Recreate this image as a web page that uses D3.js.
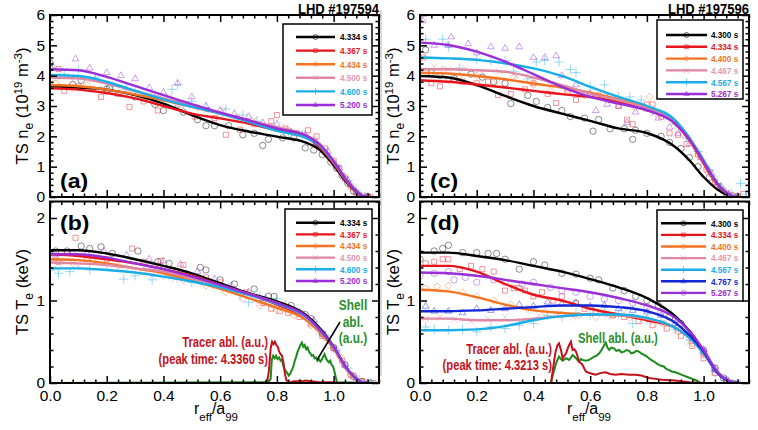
<!DOCTYPE html>
<html>
<head>
<meta charset="utf-8">
<script src="https://cdn.jsdelivr.net/npm/d3@7"></script>
<style>
  body { margin: 0; background: #fff; }
  svg { display: block; }
</style>
</head>
<body>
<div id="chart"></div>
<script>
// radial knots of the fitted profiles (r_eff/a_99)
var knots = [0, 0.1, 0.2, 0.3, 0.4, 0.5, 0.6, 0.7, 0.8, 0.9, 0.95, 1.0, 1.05, 1.1, 1.12]

var timesA = ["4.334 s", "4.367 s", "4.434 s", "4.500 s", "4.600 s", "5.200 s"]
var timesC = ["4.300 s", "4.334 s", "4.400 s", "4.467 s", "4.567 s", "5.267 s"]
var timesD = ["4.300 s", "4.334 s", "4.400 s", "4.467 s", "4.567 s", "4.767 s", "5.267 s"]

var xTicks = [0, 0.2, 0.4, 0.6, 0.8, 1.0]
var neTicks = [0, 1, 2, 3, 4, 5, 6]
var teTicks = [0, 1, 2]

// fitted n_e, shot 197594 (panel a)
var fitA = [
  [3.65, 3.61, 3.54, 3.36, 3.08, 2.70, 2.37, 2.16, 1.99, 1.80, 1.56, 1.05, 0.44, 0.04, 0],
  [3.58, 3.54, 3.43, 3.25, 3.00, 2.75, 2.59, 2.42, 2.20, 1.98, 1.65, 1.10, 0.46, 0.04, 0],
  [3.69, 3.65, 3.54, 3.38, 3.19, 2.97, 2.75, 2.51, 2.28, 2.04, 1.73, 1.16, 0.50, 0.05, 0],
  [3.94, 3.91, 3.74, 3.50, 3.25, 3.00, 2.78, 2.53, 2.29, 2.04, 1.72, 1.16, 0.50, 0.05, 0],
  [4.02, 3.99, 3.80, 3.50, 3.22, 2.97, 2.75, 2.48, 2.18, 1.96, 1.70, 1.16, 0.50, 0.05, 0],
  [4.21, 4.18, 3.96, 3.66, 3.36, 3.06, 2.78, 2.53, 2.26, 2.04, 1.74, 1.19, 0.50, 0.05, 0]
]
// fitted T_e, shot 197594 (panel b)
var fitB = [
  [1.61, 1.61, 1.57, 1.50, 1.42, 1.33, 1.21, 1.09, 0.99, 0.83, 0.67, 0.44, 0.16, 0.01, 0],
  [1.56, 1.54, 1.50, 1.45, 1.38, 1.30, 1.19, 1.08, 0.95, 0.79, 0.63, 0.42, 0.15, 0.01, 0],
  [1.50, 1.49, 1.45, 1.39, 1.33, 1.24, 1.14, 1.03, 0.91, 0.77, 0.62, 0.42, 0.15, 0.01, 0],
  [1.46, 1.45, 1.43, 1.39, 1.35, 1.27, 1.18, 1.08, 0.97, 0.80, 0.64, 0.43, 0.15, 0.01, 0],
  [1.39, 1.39, 1.37, 1.34, 1.29, 1.23, 1.16, 1.07, 0.96, 0.81, 0.65, 0.44, 0.16, 0.01, 0],
  [1.56, 1.56, 1.52, 1.45, 1.38, 1.29, 1.19, 1.08, 0.97, 0.82, 0.65, 0.44, 0.16, 0.01, 0]
]
// fitted n_e, shot 197596 (panel c)
var fitC = [
  [3.99, 3.94, 3.69, 3.33, 3.00, 2.75, 2.51, 2.26, 2.11, 1.65, 1.21, 0.66, 0.24, 0.02, 0],
  [3.85, 3.80, 3.71, 3.61, 3.50, 3.39, 3.30, 3.14, 2.86, 2.42, 1.87, 1.10, 0.39, 0.04, 0],
  [4.10, 4.07, 3.99, 3.88, 3.74, 3.61, 3.44, 3.22, 2.95, 2.48, 1.90, 1.16, 0.42, 0.04, 0],
  [4.21, 4.21, 4.18, 4.13, 3.94, 3.69, 3.41, 3.19, 2.92, 2.48, 1.90, 1.16, 0.42, 0.04, 0],
  [4.60, 4.57, 4.52, 4.41, 4.24, 3.99, 3.63, 3.30, 3.00, 2.53, 1.95, 1.21, 0.44, 0.04, 0],
  [5.09, 5.01, 4.79, 4.46, 4.05, 3.63, 3.30, 3.08, 2.86, 2.42, 1.90, 1.16, 0.42, 0.04, 0]
]
// fitted T_e, shot 197596 (panel d)
var fitD = [
  [1.58, 1.58, 1.54, 1.49, 1.42, 1.35, 1.26, 1.16, 1.03, 0.81, 0.63, 0.38, 0.12, 0.01, 0],
  [1.42, 1.42, 1.35, 1.20, 1.07, 1.00, 0.90, 0.83, 0.76, 0.67, 0.55, 0.36, 0.12, 0.01, 0],
  [1.13, 1.11, 1.04, 0.95, 0.88, 0.85, 0.83, 0.82, 0.78, 0.67, 0.55, 0.36, 0.12, 0.01, 0],
  [0.78, 0.78, 0.76, 0.76, 0.78, 0.81, 0.83, 0.82, 0.78, 0.67, 0.55, 0.36, 0.12, 0.01, 0],
  [0.64, 0.64, 0.65, 0.69, 0.76, 0.81, 0.83, 0.83, 0.79, 0.67, 0.55, 0.36, 0.12, 0.01, 0],
  [0.87, 0.87, 0.88, 0.90, 0.92, 0.94, 0.94, 0.92, 0.87, 0.73, 0.58, 0.38, 0.12, 0.01, 0],
  [1.34, 1.33, 1.30, 1.25, 1.20, 1.15, 1.10, 1.03, 0.94, 0.79, 0.63, 0.40, 0.13, 0.01, 0]
]

// Thomson scattering points [r_eff/a_99, value]
var ptsA = [
  [[0.0,4.42],[0.0,4.25],[0.08,3.7],[0.11,3.85],[0.2,3.55],[0.21,3.6],[0.3,3.3],[0.37,3.05],[0.4,2.85],[0.47,2.8],[0.52,2.55],[0.55,2.35],[0.58,2.35],[0.63,2.35],[0.68,2.05],[0.72,2.1],[0.75,1.7],[0.77,1.9],[0.82,1.95],[0.86,1.95],[0.9,1.62],[0.93,1.55],[0.96,1.4],[0.99,1.15],[1.01,0.95],[1.03,0.7],[1.05,0.45],[1.07,0.2],[1.09,0.05],[1.12,0.0]],
  [[0.03,4.22],[0.05,3.5],[0.1,3.65],[0.15,3.55],[0.18,3.3],[0.24,3.4],[0.28,2.97],[0.33,3.15],[0.38,2.85],[0.45,3.05],[0.51,2.65],[0.58,2.6],[0.62,2.05],[0.67,2.22],[0.72,2.4],[0.78,2.5],[0.8,2.7],[0.83,2.25],[0.87,2.1],[0.91,2.2],[0.94,2.0],[0.97,1.6],[1.0,1.2],[1.02,0.95],[1.04,0.6],[1.06,0.35],[1.08,0.15],[1.12,0.03],[1.13,0.0]],
  [[0.02,3.75],[0.08,3.6],[0.13,3.7],[0.2,3.5],[0.27,3.45],[0.33,3.3],[0.4,3.25],[0.46,3.0],[0.52,2.95],[0.6,2.7],[0.66,2.6],[0.72,2.45],[0.78,2.3],[0.84,2.2],[0.9,2.05],[0.95,1.7],[1.0,1.15],[1.04,0.65],[1.07,0.25],[1.1,0.05]],
  [[0.02,3.95],[0.08,3.85],[0.15,3.9],[0.22,3.6],[0.28,3.55],[0.35,3.35],[0.42,3.3],[0.48,3.05],[0.55,2.85],[0.61,2.85],[0.66,2.65],[0.72,2.55],[0.77,2.35],[0.83,2.3],[0.88,2.1],[0.93,1.9],[0.97,1.5],[1.01,1.0],[1.04,0.65],[1.07,0.3],[1.1,0.05]],
  [[0.0,4.0],[0.05,4.05],[0.1,4.2],[0.16,3.95],[0.22,3.65],[0.27,3.55],[0.3,3.5],[0.37,3.35],[0.43,3.55],[0.45,3.7],[0.5,3.15],[0.55,2.95],[0.62,2.9],[0.68,2.7],[0.73,2.5],[0.79,2.3],[0.84,2.1],[0.89,2.05],[0.93,1.85],[0.97,1.45],[1.01,1.0],[1.05,0.55],[1.08,0.2],[1.11,0.02]],
  [[0.01,4.3],[0.09,4.55],[0.14,4.25],[0.2,4.1],[0.25,4.0],[0.3,3.9],[0.35,3.6],[0.4,3.45],[0.45,3.75],[0.5,3.3],[0.55,3.0],[0.6,2.85],[0.65,2.75],[0.7,2.65],[0.75,2.45],[0.8,2.4],[0.85,2.15],[0.9,2.05],[0.94,1.8],[0.98,1.5],[1.02,0.95],[1.05,0.55],[1.08,0.15],[1.12,0.02]]
]
var ptsB = [
  [[0.02,1.6],[0.06,1.6],[0.11,1.66],[0.14,1.63],[0.18,1.65],[0.22,1.57],[0.31,1.6],[0.38,1.47],[0.42,1.45],[0.53,1.4],[0.55,1.37],[0.6,1.25],[0.65,1.2],[0.72,1.14],[0.77,1.05],[0.79,1.05],[0.85,0.94],[0.9,0.83],[0.92,0.78],[0.96,0.6],[1.0,0.43],[1.04,0.22],[1.07,0.08],[1.1,0.02],[1.13,0.0]],
  [[0.03,1.47],[0.06,1.58],[0.09,1.76],[0.13,1.5],[0.2,1.5],[0.29,1.63],[0.33,1.47],[0.39,1.48],[0.45,1.35],[0.47,1.43],[0.55,1.28],[0.6,1.22],[0.65,1.12],[0.69,1.1],[0.75,0.97],[0.78,0.9],[0.81,0.87],[0.84,0.85],[0.88,0.8],[0.92,0.72],[0.96,0.57],[1.0,0.42],[1.03,0.27],[1.06,0.1],[1.1,0.02],[1.14,0.0]],
  [[0.02,1.5],[0.08,1.45],[0.15,1.48],[0.24,1.42],[0.33,1.36],[0.4,1.3],[0.47,1.25],[0.55,1.18],[0.62,1.1],[0.68,1.02],[0.74,0.94],[0.8,0.88],[0.86,0.82],[0.92,0.7],[0.97,0.55],[1.02,0.33],[1.06,0.1],[1.1,0.01]],
  [[0.03,1.45],[0.1,1.42],[0.2,1.4],[0.28,1.4],[0.36,1.3],[0.44,1.26],[0.52,1.22],[0.58,1.17],[0.65,1.1],[0.72,1.0],[0.79,0.95],[0.85,0.9],[0.9,0.8],[0.95,0.62],[0.99,0.45],[1.03,0.28],[1.07,0.08],[1.11,0.01]],
  [[0.0,1.36],[0.03,1.33],[0.07,1.35],[0.14,1.37],[0.26,1.26],[0.3,1.3],[0.36,1.25],[0.42,1.3],[0.5,1.22],[0.58,1.2],[0.63,1.16],[0.67,1.07],[0.7,0.98],[0.74,1.05],[0.8,1.02],[0.83,0.95],[0.88,0.85],[0.93,0.74],[0.97,0.58],[1.01,0.4],[1.05,0.18],[1.09,0.04],[1.13,0.0]],
  [[0.02,1.55],[0.08,1.58],[0.13,1.57],[0.19,1.6],[0.27,1.55],[0.35,1.5],[0.4,1.48],[0.46,1.44],[0.52,1.35],[0.58,1.26],[0.64,1.18],[0.7,1.1],[0.76,1.02],[0.82,0.93],[0.88,0.85],[0.93,0.76],[0.97,0.58],[1.01,0.4],[1.04,0.22],[1.08,0.05],[1.12,0.0]]
]
var ptsC = [
  [[0.02,4.85],[0.04,4.1],[0.07,4.0],[0.12,3.9],[0.18,4.05],[0.22,3.95],[0.26,3.8],[0.3,3.75],[0.32,3.08],[0.38,3.35],[0.41,3.15],[0.45,2.95],[0.5,2.85],[0.53,2.65],[0.58,2.6],[0.61,2.17],[0.63,2.55],[0.67,2.25],[0.72,2.25],[0.75,1.9],[0.76,2.2],[0.8,2.1],[0.85,2.0],[0.88,1.8],[0.92,1.6],[0.95,1.3],[0.98,1.0],[1.02,0.65],[1.05,0.35],[1.08,0.1],[1.12,0.02]],
  [[0.01,4.6],[0.04,3.75],[0.07,3.65],[0.1,3.85],[0.15,3.8],[0.2,3.75],[0.24,3.8],[0.275,3.36],[0.32,3.4],[0.37,3.55],[0.4,3.75],[0.45,3.4],[0.48,3.1],[0.52,3.45],[0.55,3.2],[0.6,3.35],[0.63,3.35],[0.67,3.3],[0.7,3.0],[0.73,2.55],[0.75,2.4],[0.8,3.05],[0.82,3.05],[0.85,2.65],[0.88,2.1],[0.91,2.05],[0.94,1.75],[0.98,1.4],[1.01,0.9],[1.04,0.5],[1.07,0.2],[1.1,0.05],[1.14,0.1]],
  [[0.02,4.15],[0.08,4.2],[0.14,4.0],[0.2,4.0],[0.27,3.85],[0.33,3.95],[0.4,3.7],[0.46,3.5],[0.52,3.55],[0.58,3.35],[0.65,3.3],[0.7,3.15],[0.76,2.95],[0.81,3.3],[0.85,2.75],[0.9,2.45],[0.94,2.0],[0.98,1.4],[1.02,0.85],[1.06,0.35],[1.1,0.05]],
  [[0.01,4.6],[0.05,4.3],[0.1,4.2],[0.16,4.25],[0.22,4.1],[0.28,4.15],[0.34,4.0],[0.4,3.85],[0.46,3.7],[0.52,3.55],[0.58,3.4],[0.64,3.3],[0.7,3.15],[0.76,3.0],[0.82,2.75],[0.87,2.6],[0.92,2.2],[0.96,1.75],[1.0,1.15],[1.04,0.6],[1.08,0.15],[1.12,0.03]],
  [[0.02,5.2],[0.08,5.2],[0.1,4.95],[0.14,4.25],[0.2,4.55],[0.25,4.5],[0.3,4.5],[0.33,4.15],[0.38,3.9],[0.41,4.45],[0.44,4.5],[0.49,4.45],[0.53,4.2],[0.55,4.1],[0.6,3.65],[0.65,3.7],[0.7,3.3],[0.74,3.3],[0.78,3.2],[0.82,2.85],[0.86,2.7],[0.9,2.4],[0.94,1.95],[0.98,1.5],[1.02,0.9],[1.06,0.3],[1.1,0.1],[1.13,0.45],[1.15,0.1]],
  [[0.01,5.81],[0.05,5.0],[0.1,5.0],[0.11,5.28],[0.17,5.05],[0.2,4.75],[0.25,4.95],[0.3,4.9],[0.35,4.95],[0.4,4.6],[0.44,4.6],[0.48,4.65],[0.5,4.0],[0.55,3.7],[0.6,3.4],[0.62,2.85],[0.66,3.05],[0.7,3.0],[0.73,2.45],[0.76,2.8],[0.8,2.9],[0.84,2.6],[0.88,2.3],[0.91,2.1],[0.95,1.75],[0.99,1.3],[1.03,0.75],[1.06,0.35],[1.09,0.1],[1.12,0.02]]
]
var ptsD = [
  [[0.0,1.5],[0.05,1.6],[0.08,1.63],[0.1,1.67],[0.15,1.58],[0.2,1.58],[0.24,1.57],[0.27,1.57],[0.3,1.5],[0.35,1.38],[0.4,1.47],[0.44,1.43],[0.5,1.33],[0.55,1.32],[0.6,1.27],[0.63,1.25],[0.68,1.15],[0.72,1.12],[0.76,1.05],[0.8,1.0],[0.84,0.94],[0.88,0.8],[0.92,0.72],[0.96,0.55],[1.0,0.38],[1.04,0.18],[1.07,0.06],[1.1,0.0]],
  [[0.02,1.45],[0.05,1.47],[0.08,1.5],[0.1,1.5],[0.14,1.38],[0.18,1.42],[0.22,1.38],[0.26,1.35],[0.3,1.12],[0.33,1.15],[0.35,1.15],[0.37,1.12],[0.4,1.05],[0.43,1.1],[0.47,1.0],[0.5,1.05],[0.55,0.97],[0.58,0.9],[0.62,0.85],[0.68,0.82],[0.72,0.8],[0.77,0.75],[0.82,0.7],[0.87,0.66],[0.92,0.57],[0.96,0.45],[1.0,0.3],[1.04,0.12],[1.08,0.03]],
  [[0.02,1.15],[0.06,1.17],[0.1,1.18],[0.15,1.1],[0.2,1.05],[0.26,1.0],[0.32,0.95],[0.38,0.9],[0.44,0.86],[0.5,0.83],[0.56,0.82],[0.62,0.8],[0.68,0.82],[0.74,0.79],[0.8,0.78],[0.86,0.72],[0.91,0.62],[0.96,0.48],[1.0,0.34],[1.04,0.12],[1.08,0.03]],
  [[0.02,0.78],[0.07,0.8],[0.12,0.77],[0.18,0.75],[0.24,0.78],[0.3,0.8],[0.36,0.75],[0.42,0.82],[0.48,0.85],[0.54,0.8],[0.6,0.83],[0.66,0.81],[0.72,0.85],[0.78,0.76],[0.84,0.72],[0.9,0.64],[0.95,0.5],[1.0,0.34],[1.04,0.14],[1.08,0.02]],
  [[0.02,0.68],[0.05,0.65],[0.1,0.64],[0.15,0.65],[0.2,0.62],[0.25,0.68],[0.3,0.66],[0.35,0.7],[0.4,0.72],[0.45,0.82],[0.5,0.8],[0.55,0.85],[0.6,0.82],[0.65,0.86],[0.7,0.84],[0.75,0.72],[0.8,0.77],[0.85,0.75],[0.9,0.65],[0.95,0.52],[1.0,0.36],[1.04,0.15],[1.08,0.03]],
  [[0.02,0.93],[0.05,0.87],[0.1,0.87],[0.15,0.85],[0.2,0.9],[0.25,0.88],[0.3,0.9],[0.35,0.95],[0.4,0.93],[0.45,0.98],[0.5,0.96],[0.55,0.97],[0.6,0.93],[0.65,0.94],[0.7,0.9],[0.75,0.88],[0.8,0.86],[0.85,0.82],[0.9,0.72],[0.95,0.58],[1.0,0.4],[1.04,0.16],[1.08,0.02]],
  [[0.0,1.3],[0.05,1.33],[0.1,1.35],[0.12,1.25],[0.16,1.28],[0.2,1.22],[0.26,1.25],[0.3,1.22],[0.36,1.2],[0.4,1.22],[0.46,1.16],[0.5,1.12],[0.55,1.1],[0.6,1.05],[0.65,1.02],[0.7,1.0],[0.75,0.97],[0.8,0.92],[0.85,0.86],[0.9,0.76],[0.95,0.6],[1.0,0.4],[1.04,0.18],[1.08,0.04],[1.12,0.0]]
]

// ablation emission traces (a.u.)
var tracerB = [[0.765,0],[0.772,0.15],[0.778,0.42],[0.783,0.5],[0.788,0.47],[0.793,0.5],[0.798,0.46],[0.803,0.44],[0.808,0.38],[0.813,0.35],[0.818,0.33],[0.823,0.25],[0.828,0.12],[0.833,0.04],[0.84,0.01],[0.85,0.01],[0.86,0.02],[0.87,0.02],[0.88,0.03],[0.89,0.02],[0.9,0.03],[0.92,0.02],[0.95,0.01],[0.98,0.01],[1.0,0.01],[1.02,0],[1.16,0]]
var shellB = [[0,0],[0.77,0.01],[0.778,0.05],[0.782,0.28],[0.787,0.33],[0.792,0.3],[0.797,0.33],[0.802,0.29],[0.808,0.31],[0.813,0.27],[0.818,0.28],[0.823,0.2],[0.828,0.16],[0.835,0.13],[0.842,0.09],[0.848,0.12],[0.853,0.16],[0.858,0.2],[0.863,0.27],[0.868,0.32],[0.873,0.38],[0.878,0.42],[0.883,0.46],[0.888,0.49],[0.893,0.44],[0.898,0.46],[0.903,0.41],[0.908,0.43],[0.913,0.38],[0.918,0.36],[0.923,0.33],[0.928,0.34],[0.933,0.3],[0.938,0.31],[0.943,0.27],[0.948,0.29],[0.953,0.26],[0.958,0.28],[0.963,0.32],[0.968,0.35],[0.973,0.3],[0.978,0.27],[0.983,0.25],[0.988,0.27],[0.993,0.22],[0.998,0.2],[1.003,0.14],[1.008,0.06],[1.012,0.01],[1.16,0]]
var tracerD = [[0.462,0],[0.47,0.2],[0.478,0.38],[0.485,0.46],[0.49,0.48],[0.497,0.4],[0.503,0.3],[0.509,0.33],[0.515,0.36],[0.521,0.42],[0.526,0.46],[0.532,0.5],[0.538,0.4],[0.544,0.41],[0.55,0.38],[0.555,0.33],[0.56,0.26],[0.567,0.24],[0.573,0.22],[0.58,0.17],[0.585,0.14],[0.597,0.12],[0.61,0.11],[0.62,0.1],[0.635,0.12],[0.655,0.13],[0.67,0.11],[0.69,0.1],[0.71,0.11],[0.737,0.1],[0.76,0.1],[0.78,0.09],[0.807,0.06],[0.83,0.05],[0.853,0.04],[0.9,0.03],[0.95,0.01],[1.0,0],[1.16,0]]
var shellD = [[0.462,0],[0.47,0.12],[0.48,0.24],[0.49,0.32],[0.497,0.29],[0.503,0.27],[0.515,0.3],[0.526,0.28],[0.538,0.34],[0.55,0.3],[0.56,0.26],[0.567,0.29],[0.573,0.28],[0.585,0.27],[0.597,0.28],[0.605,0.3],[0.614,0.32],[0.622,0.33],[0.632,0.36],[0.64,0.4],[0.65,0.46],[0.655,0.49],[0.661,0.43],[0.667,0.4],[0.675,0.43],[0.684,0.42],[0.692,0.39],[0.702,0.4],[0.71,0.37],[0.72,0.38],[0.728,0.4],[0.737,0.39],[0.745,0.36],[0.755,0.37],[0.763,0.39],[0.772,0.38],[0.78,0.36],[0.79,0.34],[0.8,0.32],[0.807,0.3],[0.815,0.28],[0.825,0.26],[0.833,0.24],[0.842,0.22],[0.85,0.21],[0.86,0.2],[0.868,0.17],[0.877,0.16],[0.888,0.14],[0.9,0.13],[0.915,0.11],[0.93,0.09],[0.945,0.07],[0.96,0.05],[0.975,0.03],[0.99,0],[1.16,0]]

var cBlack = "#000000", cRed = "#e8141c", cOrange = "#f47321", cPink = "#df87a3",
    cCyan = "#1aaee8", cPurple = "#9a2ed8", cBlue = "#1226d6"
var colorsA = [cBlack, cRed, cOrange, cPink, cCyan, cPurple]
var colorsD = [cBlack, cRed, cOrange, cPink, cCyan, cBlue, cPurple]

var symCircle = d3.symbolCircle,
    symSquare = d3.symbolSquare2 || d3.symbolSquare,
    symDiamond = d3.symbolDiamond2 || d3.symbolDiamond,
    symTimes = d3.symbolTimes || d3.symbolCross,
    symPlus = d3.symbolPlus || d3.symbolCross,
    symTri = d3.symbolTriangle2 || d3.symbolTriangle
var symsA = [symCircle, symSquare, symDiamond, symTimes, symPlus, symTri]
var symsD = [symCircle, symSquare, symDiamond, symTimes, symPlus, symTri, symCircle]

var FONT = "'Liberation Sans', Arial, Helvetica, sans-serif"

var svg = d3.select("#chart").append("svg")
    .attr("width", 758)
    .attr("height", 430)
    .style("font-family", FONT)

// thin seam between the two halves of the figure
svg.append("line")
  .attr("x1", 381).attr("x2", 381).attr("y1", 10).attr("y2", 376)
  .attr("stroke", "#b0b0b0").attr("stroke-width", 1)

// helper: text with horizontal stretch
function label(g, x, y, str, o) {
  return g.append("text")
    .attr("transform", "translate(" + x + "," + y + ") scale(" + (o.sx || 1) + ",1)")
    .attr("text-anchor", o.anchor || "start")
    .attr("font-size", o.size)
    .attr("font-weight", o.bold ? "bold" : "normal")
    .attr("fill", o.color || "#000")
    .text(str)
}

function drawPanel(p) {
  var x = d3.scaleLinear().domain([0, 1.16]).range([p.left, p.right])
  var y = d3.scaleLinear().domain([0, p.ymax]).range([p.bottom, p.top])
  var g = svg.append("g")

  svg.append("clipPath").attr("id", "clip" + p.name)
    .append("rect")
    .attr("x", p.left).attr("y", p.top)
    .attr("width", p.right - p.left).attr("height", p.bottom - p.top)
  var plot = g.append("g").attr("clip-path", "url(#clip" + p.name + ")")

  // measured points
  p.pts.forEach(function(s, i) {
    plot.append("g").selectAll("path").data(s).enter().append("path")
      .attr("transform", function(d) { return "translate(" + x(d[0]) + "," + y(d[1]) + ")" })
      .attr("d", d3.symbol().type(p.syms[i]).size(32))
      .attr("fill", "none")
      .attr("stroke", p.colors[i])
      .attr("stroke-width", 0.9)
      .attr("opacity", 0.5)
  })

  // ablation traces
  var trace = d3.line().x(function(d) { return x(d[0]) }).y(function(d) { return y(d[1]) })
  if (p.shell) {
    plot.append("path").datum(p.shell).attr("d", trace)
      .attr("fill", "none").attr("stroke", "#1c8a1c").attr("stroke-width", 2)
    plot.append("path").datum(p.tracer).attr("d", trace)
      .attr("fill", "none").attr("stroke", "#c4121a").attr("stroke-width", 2)
  }

  // fitted profiles
  var fitLine = d3.line()
    .x(function(d, i) { return x(knots[i]) })
    .y(function(d) { return y(d) })
    .curve(d3.curveMonotoneX)
  p.fit.forEach(function(f, i) {
    plot.append("path").datum(f).attr("d", fitLine)
      .attr("fill", "none")
      .attr("stroke", p.colors[i])
      .attr("stroke-width", 2.4)
  })

  // axes: ticks on all four sides pointing inward
  var xMinor = d3.range(0, 30).map(function(i) { return i * 0.04 })
    .filter(function(v) { return v <= 1.16 && Math.abs(v / 0.2 - Math.round(v / 0.2)) > 1e-6 })
  var yMinor = d3.range(0, p.ymax * 5 + 1).map(function(i) { return i * 0.2 })
    .filter(function(v) { return v <= p.ymax + 1e-9 && Math.abs(v - Math.round(v)) > 1e-6 })

  function axisGroup(axis, tx, ty) {
    var a = g.append("g").attr("transform", "translate(" + tx + "," + ty + ")").call(axis)
    a.select(".domain").remove()
    a.selectAll("line").attr("stroke-width", 1.5)
    return a
  }
  var bx = axisGroup(d3.axisBottom(x).tickValues(xTicks).tickSize(-7).tickPadding(7)
      .tickFormat(p.xLabels ? d3.format(".1f") : ""), 0, p.bottom)
  bx.selectAll("text").attr("font-size", 15.5).attr("font-family", FONT).attr("fill", "#000")
  axisGroup(d3.axisBottom(x).tickValues(xMinor).tickSize(-3.5).tickFormat(""), 0, p.bottom)
  axisGroup(d3.axisTop(x).tickValues(xTicks).tickSize(-7).tickFormat(""), 0, p.top)
  axisGroup(d3.axisTop(x).tickValues(xMinor).tickSize(-3.5).tickFormat(""), 0, p.top)

  var ly = axisGroup(d3.axisLeft(y).tickValues(p.yTicks).tickSize(-7).tickPadding(5)
      .tickFormat(d3.format("d")), p.left, 0)
  ly.selectAll("text").attr("font-size", 15.5).attr("font-family", FONT).attr("fill", "#000")
  axisGroup(d3.axisLeft(y).tickValues(yMinor).tickSize(-3.5).tickFormat(""), p.left, 0)
  axisGroup(d3.axisRight(y).tickValues(p.yTicks).tickSize(-7).tickFormat(""), p.right, 0)
  axisGroup(d3.axisRight(y).tickValues(yMinor).tickSize(-3.5).tickFormat(""), p.right, 0)

  g.append("rect")
    .attr("x", p.left).attr("y", p.top)
    .attr("width", p.right - p.left).attr("height", p.bottom - p.top)
    .attr("fill", "none").attr("stroke", "#000").attr("stroke-width", 2)

  // panel tag
  label(g, p.left + 10, p.tagY, p.tag, { size: 21, bold: true, sx: 1.1 })

  // legend
  var L = p.legend
  var lg = g.append("g")
  lg.append("rect").attr("x", L.x).attr("y", L.y).attr("width", L.w).attr("height", L.h)
    .attr("fill", "#fff").attr("stroke", "#000").attr("stroke-width", 1.5)
  p.times.forEach(function(t, i) {
    var ry = L.row0 + i * L.step
    lg.append("line").attr("x1", L.l0).attr("x2", L.l1).attr("y1", ry).attr("y2", ry)
      .attr("stroke", p.colors[i]).attr("stroke-width", 2.4)
    lg.append("path")
      .attr("transform", "translate(" + (L.l0 + L.l1) / 2 + "," + ry + ")")
      .attr("d", d3.symbol().type(p.syms[i]).size(18))
      .attr("fill", "none").attr("stroke", p.colors[i]).attr("stroke-width", 0.9).attr("opacity", 0.7)
    label(lg, L.tx, ry + 3.3, t, { size: 9.5, bold: true, sx: 0.86,
      color: p.colors[i] === cPink ? "#e597b0" : p.colors[i] })
  })
  return { x: x, y: y, g: g }
}

var legendA = { x: 283, y: 24, w: 89, h: 91, l0: 296, l1: 335, tx: 340, row0: 37, step: 13.6 }
var legendB = { x: 285, y: 209, w: 87, h: 82, l0: 296, l1: 335, tx: 340, row0: 222.7, step: 11.65 }
var legendC = { x: 657, y: 20, w: 86, h: 79, l0: 666, l1: 707, tx: 711, row0: 35, step: 11.8 }
var legendD = { x: 657, y: 210, w: 86, h: 91, l0: 661, l1: 706, tx: 711, row0: 223.3, step: 11.6 }

drawPanel({ name: "a", left: 50, right: 379, top: 15, bottom: 197, ymax: 6, yTicks: neTicks,
  xLabels: false, fit: fitA, pts: ptsA, colors: colorsA, syms: symsA, times: timesA,
  legend: legendA, tag: "(a)", tagY: 188 })
drawPanel({ name: "b", left: 50, right: 379, top: 201.5, bottom: 383, ymax: 2.2, yTicks: teTicks,
  xLabels: true, fit: fitB, pts: ptsB, colors: colorsA, syms: symsA, times: timesA,
  legend: legendB, tag: "(b)", tagY: 230, tracer: tracerB, shell: shellB })
drawPanel({ name: "c", left: 420, right: 749, top: 15, bottom: 197, ymax: 6, yTicks: neTicks,
  xLabels: false, fit: fitC, pts: ptsC, colors: colorsA, syms: symsA, times: timesC,
  legend: legendC, tag: "(c)", tagY: 188 })
drawPanel({ name: "d", left: 420, right: 749, top: 201.5, bottom: 383, ymax: 2.2, yTicks: teTicks,
  xLabels: true, fit: fitD, pts: ptsD, colors: colorsD, syms: symsD, times: timesD,
  legend: legendD, tag: "(d)", tagY: 230, tracer: tracerD, shell: shellD })

// shot titles
label(svg, 379, 14, "LHD #197594", { size: 14, bold: true, anchor: "end", sx: 0.93 })
label(svg, 749, 14, "LHD #197596", { size: 14, bold: true, anchor: "end", sx: 0.93 })

// axis titles
function yTitle(cx, cy, parts) {
  var t = svg.append("text")
    .attr("transform", "translate(" + cx + "," + cy + ") rotate(-90)")
    .attr("text-anchor", "middle")
    .attr("font-size", 16.5)
  parts.forEach(function(pt) {
    t.append("tspan").attr("dy", pt[1]).attr("font-size", pt[2] || 16.5).text(pt[0])
  })
}
var neTitle = [["TS n", 0], ["e", 5, 12], [" (10", -5], ["19", -6.5, 11.5], [" m", 6.5], ["-3", -6.5, 11.5], [")", 6.5]]
var teTitle = [["TS T", 0], ["e", 5, 12], [" (keV)", -5]]
yTitle(28, 106, neTitle)
yTitle(399, 106, neTitle)
yTitle(28, 292, teTitle)
yTitle(399, 292, teTitle)

function xTitle(cx) {
  var t = svg.append("text")
    .attr("transform", "translate(" + cx + ",414)")
    .attr("text-anchor", "middle")
    .attr("font-size", 16)
  t.append("tspan").text("r")
  t.append("tspan").attr("dy", 7).attr("font-size", 11.5).text("eff")
  t.append("tspan").attr("dy", -7).text("/a")
  t.append("tspan").attr("dy", 7).attr("font-size", 11.5).text("99")
}
xTitle(216)
xTitle(589)

// ablation annotations
var red = "#c4121a", green = "#2a8f2a"
label(svg, 268, 347, "Tracer abl. (a.u.)", { size: 14, bold: true, anchor: "end", sx: 0.8, color: red })
label(svg, 268, 364, "(peak time: 4.3360 s)", { size: 14, bold: true, anchor: "end", sx: 0.8, color: red })
label(svg, 353, 310, "Shell", { size: 14, bold: true, anchor: "middle", sx: 0.85, color: green })
label(svg, 353, 327, "abl.", { size: 14, bold: true, anchor: "middle", sx: 0.85, color: green })
label(svg, 353, 343, "(a.u.)", { size: 14, bold: true, anchor: "middle", sx: 0.85, color: green })
svg.append("line").attr("x1", 340).attr("y1", 322).attr("x2", 317).attr("y2", 360)
  .attr("stroke", "#000").attr("stroke-width", 1.5)

label(svg, 552, 354, "Tracer abl. (a.u.)", { size: 14, bold: true, anchor: "end", sx: 0.8, color: red })
label(svg, 552, 370, "(peak time: 4.3213 s)", { size: 14, bold: true, anchor: "end", sx: 0.8, color: red })
label(svg, 578, 343, "Shell abl. (a.u.)", { size: 14, bold: true, anchor: "start", sx: 0.81, color: green })
</script>
</body>
</html>
